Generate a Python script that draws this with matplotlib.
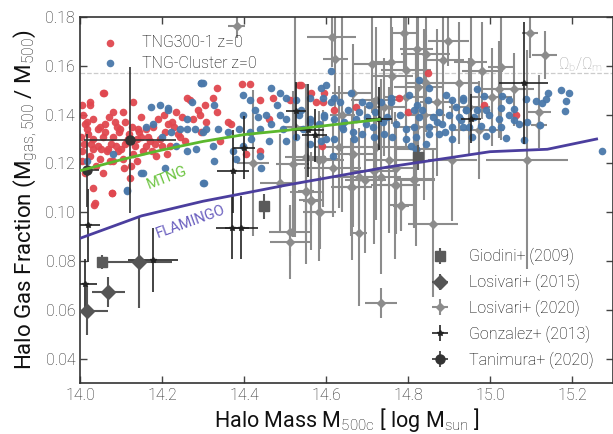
import numpy as np
import matplotlib
matplotlib.use("Agg")
from matplotlib import pyplot as plt

plt.rcParams['font.family'] = ['Roboto', 'DejaVu Sans']
plt.rcParams['font.weight'] = 'light'
plt.rcParams['mathtext.fontset'] = 'custom'
plt.rcParams['mathtext.rm'] = 'Roboto:light'
plt.rcParams['mathtext.it'] = 'Roboto:light'

# TNG300-1 z=0 halos
tng300_x = [14.004, 14.024, 14.058, 14.032, 14.060, 14.085, 14.110, 14.130, 14.105, 14.081,
            14.016, 14.061, 14.032, 14.057, 14.081, 14.004, 14.032, 14.065, 14.093, 14.110,
            14.134, 14.142, 14.150, 14.162, 14.178, 14.207, 14.004, 14.024, 14.049, 14.081,
            14.105, 14.130, 14.154, 14.122, 14.032, 14.077, 14.034, 14.057, 14.012, 14.268,
            14.288, 14.292, 14.414, 14.324, 14.304, 14.333, 14.369, 14.361, 14.308, 14.438,
            14.539, 14.564, 14.576, 14.511, 14.462, 14.438, 14.405, 14.341, 14.296, 14.596,
            14.592, 14.620, 14.673, 14.779, 14.799, 14.848, 14.590, 14.985, 15.064, 14.395,
            14.333, 14.056, 14.024, 14.260, 14.535, 14.470, 14.037, 14.077, 14.010, 14.045,
            14.070, 14.095, 14.120, 14.140, 14.170, 14.190, 14.215, 14.235, 14.250, 14.020,
            14.040, 14.068, 14.090, 14.115, 14.160, 14.185, 14.205, 14.225, 14.245, 14.275,
            14.012, 14.050, 14.075, 14.100, 14.125, 14.145, 14.175, 14.200, 14.230, 14.255,
            14.008, 14.028, 14.044, 14.088, 14.098, 14.118, 14.138, 14.165, 14.195, 14.220,
            14.002, 14.018, 14.052, 14.072, 14.108, 14.128, 14.148, 14.182, 14.212, 14.240]
tng300_y = [0.144, 0.145, 0.149, 0.138, 0.136, 0.137, 0.137, 0.145, 0.141, 0.141,
            0.134, 0.133, 0.130, 0.131, 0.131, 0.125, 0.126, 0.125, 0.125, 0.128,
            0.127, 0.134, 0.131, 0.134, 0.135, 0.133, 0.121, 0.123, 0.122, 0.121,
            0.122, 0.124, 0.125, 0.114, 0.110, 0.108, 0.103, 0.116, 0.116, 0.146,
            0.142, 0.140, 0.1525, 0.147, 0.144, 0.141, 0.136, 0.137, 0.137, 0.146,
            0.152, 0.149, 0.145, 0.146, 0.138, 0.125, 0.124, 0.129, 0.133, 0.149,
            0.145, 0.142, 0.143, 0.147, 0.141, 0.157, 0.127, 0.1439, 0.1398, 0.1525,
            0.151, 0.149, 0.144, 0.1467, 0.152, 0.147, 0.1036, 0.1078, 0.128, 0.127,
            0.139, 0.133, 0.132, 0.130, 0.129, 0.138, 0.136, 0.141, 0.139, 0.132,
            0.119, 0.126, 0.135, 0.129, 0.127, 0.123, 0.140, 0.137, 0.131, 0.138,
            0.136, 0.135, 0.128, 0.126, 0.119, 0.133, 0.125, 0.127, 0.135, 0.129,
            0.140, 0.128, 0.134, 0.127, 0.134, 0.130, 0.121, 0.131, 0.130, 0.127,
            0.131, 0.137, 0.126, 0.121, 0.118, 0.135, 0.139, 0.128, 0.124, 0.132]

# TNG-Cluster z=0 halos
tngc_x = [14.174, 14.195, 14.215, 14.162, 14.178, 14.199, 14.223, 14.243, 14.260, 14.280,
          14.300, 14.260, 14.272, 14.296, 14.235, 14.284, 14.260, 14.150, 14.207, 14.114,
          14.081, 14.016, 14.300, 14.328, 14.397, 14.414, 14.466, 14.487, 14.503, 14.527,
          14.560, 14.592, 14.600, 14.397, 14.426, 14.434, 14.454, 14.487, 14.503, 14.535,
          14.560, 14.584, 14.596, 14.308, 14.337, 14.361, 14.389, 14.414, 14.438, 14.466,
          14.495, 14.527, 14.418, 14.462, 14.503, 14.560, 14.588, 14.324, 14.373, 14.397,
          14.438, 14.381, 14.328, 14.442, 14.302, 14.612, 14.588, 14.612, 14.633, 14.653,
          14.661, 14.689, 14.706, 14.734, 14.758, 14.758, 14.803, 14.827, 14.852, 14.823,
          14.815, 14.835, 14.827, 14.860, 14.876, 14.892, 14.908, 14.933, 14.916, 14.941,
          14.924, 14.900, 14.884, 14.908, 14.933, 14.876, 14.908, 14.596, 14.620, 14.645,
          14.673, 14.698, 14.714, 14.641, 14.665, 14.689, 14.718, 14.742, 14.762, 14.795,
          14.815, 14.852, 14.795, 14.819, 14.852, 14.600, 14.620, 14.669, 14.807, 14.616,
          14.819, 14.844, 14.969, 14.985, 15.030, 15.046, 15.026, 15.058, 15.087, 15.111,
          15.127, 15.137, 15.142, 15.174, 15.192, 15.186, 15.184, 14.933, 14.941, 14.969,
          14.998, 15.022, 15.046, 15.058, 15.070, 15.091, 15.122, 14.929, 14.977, 15.026,
          14.990, 15.040, 15.083, 14.949, 15.273, 14.296, 14.215, 14.114, 14.300, 14.154,
          14.680, 14.700, 14.740, 14.770, 14.640, 14.540, 14.560, 14.480, 14.870, 14.960,
          14.990, 15.005, 14.720, 14.750, 14.850, 14.890, 14.545, 14.620, 14.780, 14.955]
tngc_y = [0.143, 0.144, 0.142, 0.135, 0.136, 0.131, 0.133, 0.134, 0.134, 0.134,
          0.133, 0.138, 0.145, 0.153, 0.127, 0.126, 0.125, 0.116, 0.118, 0.109,
          0.124, 0.121, 0.153, 0.144, 0.148, 0.146, 0.151, 0.149, 0.147, 0.146,
          0.147, 0.147, 0.152, 0.140, 0.142, 0.139, 0.140, 0.140, 0.138, 0.140,
          0.138, 0.136, 0.140, 0.134, 0.134, 0.133, 0.134, 0.133, 0.134, 0.136,
          0.134, 0.131, 0.130, 0.129, 0.129, 0.128, 0.129, 0.127, 0.125, 0.127,
          0.123, 0.122, 0.121, 0.118, 0.112, 0.158, 0.151, 0.145, 0.145, 0.142,
          0.149, 0.145, 0.144, 0.145, 0.147, 0.145, 0.148, 0.154, 0.151, 0.144,
          0.142, 0.142, 0.139, 0.139, 0.141, 0.148, 0.146, 0.147, 0.143, 0.142,
          0.139, 0.140, 0.136, 0.135, 0.135, 0.132, 0.130, 0.139, 0.138, 0.137,
          0.138, 0.136, 0.135, 0.134, 0.133, 0.132, 0.131, 0.132, 0.131, 0.134,
          0.135, 0.135, 0.130, 0.131, 0.132, 0.130, 0.130, 0.130, 0.127, 0.123,
          0.126, 0.128, 0.1507, 0.1476, 0.1476, 0.146, 0.1429, 0.1425, 0.1462, 0.1455,
          0.1446, 0.1466, 0.1487, 0.150, 0.1487, 0.1457, 0.1416, 0.146, 0.1418, 0.1418,
          0.1398, 0.1384, 0.1398, 0.1377, 0.1363, 0.137, 0.1357, 0.1377, 0.1353, 0.135,
          0.1311, 0.1306, 0.1295, 0.135, 0.1251, 0.153, 0.1426, 0.1086, 0.112, 0.116,
          0.141, 0.139, 0.137, 0.136, 0.135, 0.142, 0.137, 0.144, 0.137, 0.139,
          0.142, 0.134, 0.141, 0.139, 0.146, 0.133, 0.134, 0.147, 0.140, 0.131]

# Lovisari+ (2020)
lov20_x = [14.614, 14.623, 14.790, 14.898, 14.821, 14.843, 14.886, 14.713, 14.758, 14.795,
           14.762, 14.981, 14.953, 15.026, 15.097, 15.133, 15.058, 15.022, 15.004, 14.924,
           14.843, 14.825, 14.795, 14.722, 14.665, 14.742, 15.119, 15.119, 14.973, 14.819,
           14.722, 14.632, 14.584, 14.551, 14.665, 14.754, 14.819, 14.908, 15.090, 14.616,
           14.717, 14.770, 14.815, 14.681, 14.551, 14.563, 14.661, 14.770, 14.585, 14.782,
           14.422, 14.519, 14.489, 14.551, 14.564, 14.584, 14.663, 14.696, 14.734, 14.769,
           14.783, 14.681, 14.511, 14.513, 14.734, 14.815, 14.592, 14.861, 14.382, 14.840,
           14.870, 14.950, 14.525, 14.640]
lov20_y = [0.1717, 0.1628, 0.1733, 0.1701, 0.1667, 0.1650, 0.1623, 0.1606, 0.1617, 0.1583,
           0.1560, 0.1580, 0.1614, 0.1596, 0.1733, 0.1644, 0.1503, 0.1503, 0.1473, 0.1528,
           0.1528, 0.1514, 0.1473, 0.1459, 0.1490, 0.1432, 0.1412, 0.1357, 0.1336, 0.1350,
           0.1268, 0.1268, 0.1213, 0.1227, 0.1240, 0.1213, 0.1260, 0.1213, 0.1216, 0.1180,
           0.1170, 0.1180, 0.1138, 0.1145, 0.1083, 0.1049, 0.1104, 0.1110, 0.1000, 0.1028,
           0.1202, 0.1197, 0.1120, 0.1086, 0.1045, 0.1001, 0.1103, 0.1131, 0.1145, 0.1110,
           0.1025, 0.0915, 0.0919, 0.0878, 0.0628, 0.1134, 0.1220, 0.0953, 0.1763, 0.1400,
           0.1450, 0.1430, 0.1350, 0.1400]
lov20_xerr = [0.06, 0.03, 0.03, 0.05, 0.04, 0.06, 0.05, 0.05, 0.04, 0.06,
              0.05, 0.05, 0.04, 0.03, 0.02, 0.03, 0.05, 0.06, 0.05, 0.05,
              0.05, 0.06, 0.05, 0.06, 0.05, 0.05, 0.03, 0.02, 0.06, 0.05,
              0.08, 0.06, 0.06, 0.05, 0.05, 0.06, 0.05, 0.06, 0.10, 0.07,
              0.05, 0.05, 0.05, 0.06, 0.04, 0.03, 0.05, 0.06, 0.04, 0.03,
              0.04, 0.04, 0.05, 0.02, 0.02, 0.03, 0.04, 0.05, 0.05, 0.04,
              0.02, 0.02, 0.05, 0.05, 0.04, 0.05, 0.04, 0.06, 0.02, 0.05,
              0.04, 0.05, 0.03, 0.03]
lov20_yerr = [0.012, 0.020, 0.015, 0.010, 0.030, 0.020, 0.025, 0.020, 0.020, 0.030,
              0.020, 0.020, 0.020, 0.030, 0.010, 0.010, 0.015, 0.020, 0.020, 0.025,
              0.020, 0.030, 0.020, 0.030, 0.020, 0.020, 0.015, 0.006, 0.020, 0.030,
              0.030, 0.025, 0.020, 0.030, 0.030, 0.030, 0.040, 0.025, 0.045, 0.020,
              0.030, 0.020, 0.020, 0.020, 0.020, 0.010, 0.020, 0.020, 0.015, 0.010,
              0.030, 0.030, 0.020, 0.030, 0.020, 0.020, 0.030, 0.030, 0.040, 0.030,
              0.010, 0.030, 0.010, 0.015, 0.006, 0.020, 0.020, 0.030, 0.005, 0.035,
              0.030, 0.020, 0.045, 0.040]

# Gonzalez+ (2013)
gon_x = [14.020, 14.012, 14.178, 14.373, 14.400, 14.527, 14.556, 14.572, 14.371, 14.393,
         14.730, 14.954, 15.082]
gon_y = [0.0946, 0.0707, 0.0805, 0.1167, 0.1265, 0.1415, 0.1336, 0.1315, 0.0937, 0.0937,
         0.1384, 0.1384, 0.1528]
gon_xerr = [0.03, 0.03, 0.06, 0.04, 0.027, 0.025, 0.04, 0.03, 0.04, 0.04,
            0.032, 0.025, 0.06]
gon_yerr = [0.015, 0.010, 0.013, 0.017, 0.013, 0.012, 0.019, 0.011, 0.013, 0.013,
            0.013, 0.010, 0.025]

# Tanimura+ (2020)
tan_x = [14.016, 14.122]
tan_y = [0.1172, 0.1295]
tan_xerr = [0.03, 0.113]
tan_yerr = [0.015, 0.030]

# Giodini+ (2009)
gio_x = [14.053, 14.450, 14.825]
gio_y = [0.0796, 0.1024, 0.1225]
gio_yerr = [0.003, 0.005, 0.005]

# Lovisari+ (2015)
lov15_x = [14.144, 14.069, 14.018]
lov15_y = [0.0796, 0.0673, 0.0597]
lov15_xerr = [0.08, 0.04, 0.05]
lov15_yerr = [0.019, 0.006, 0.010]

# model curves
mtng_x = [14.0, 14.1, 14.2, 14.3, 14.4, 14.5, 14.6, 14.73]
mtng_y = [0.117, 0.1215, 0.1255, 0.129, 0.1318, 0.1335, 0.1355, 0.138]
flam_x = [14.0, 14.15, 14.3, 14.5, 14.75, 15.0, 15.14, 15.26]
flam_y = [0.0893, 0.0985, 0.1045, 0.111, 0.1185, 0.1248, 0.1258, 0.130]

omega_ratio = 0.157

fig = plt.figure(figsize=(6.13, 4.34), dpi=100)
ax = fig.add_axes([0.1305, 0.1175, 0.8695, 0.8433])

ax.errorbar(lov20_x, lov20_y, xerr=lov20_xerr, yerr=lov20_yerr, fmt='D', ms=4,
            color='#8c8c8c', ecolor='#8c8c8c', elinewidth=1.5, capsize=0, zorder=1,
            label='Losivari+ (2020)')

ax.scatter(tng300_x, tng300_y, s=30, color='#e0474f', alpha=0.95, lw=0, zorder=2,
           label='TNG300-1 z=0')
ax.scatter(tngc_x, tngc_y, s=30, color='#4a78aa', alpha=0.95, lw=0, zorder=2,
           label='TNG-Cluster z=0')

ax.errorbar(gio_x, gio_y, yerr=gio_yerr, fmt='s', ms=7, color='#5a5a5a',
            elinewidth=1.5, capsize=0, zorder=3, label='Giodini+ (2009)')
ax.errorbar(lov15_x, lov15_y, xerr=lov15_xerr, yerr=lov15_yerr, fmt='D', ms=7,
            color='#555555', elinewidth=1.5, capsize=0, zorder=3, label='Losivari+ (2015)')
ax.errorbar(gon_x, gon_y, xerr=gon_xerr, yerr=gon_yerr, fmt='*', ms=4,
            color='#222222', elinewidth=1.2, capsize=0, zorder=3, label='Gonzalez+ (2013)')
ax.errorbar(tan_x, tan_y, xerr=tan_xerr, yerr=tan_yerr, fmt='o', ms=6.5,
            color='#333333', elinewidth=1.2, capsize=0, zorder=3, label='Tanimura+ (2020)')

ax.plot(mtng_x, mtng_y, color='#5cb82e', lw=2, zorder=4)
ax.plot(flam_x, flam_y, color='#4b3e9e', lw=2, zorder=4)
ax.text(14.168, 0.1095, 'MTNG', color='#6cc440', fontsize=10.5, rotation=21,
        fontweight='normal', rotation_mode='anchor', zorder=6)
ax.text(14.19, 0.0895, 'FLAMINGO', color='#6a5fbf', fontsize=10.5, rotation=20,
        fontweight='normal', rotation_mode='anchor', zorder=6)

ax.axhline(omega_ratio, color='#cccccc', ls='--', lw=0.9, zorder=0)
ax.text(15.165, 0.1585, 'Ω$_{\\rm b}$/Ω$_{\\rm m}$', color='#aaaaaa', fontsize=11.5)

ax.set_xlim(14.0, 15.3)
ax.set_ylim(0.03, 0.18)
ax.set_xticks([14.0, 14.2, 14.4, 14.6, 14.8, 15.0, 15.2])
ax.set_yticks([0.04, 0.06, 0.08, 0.10, 0.12, 0.14, 0.16, 0.18])
ax.xaxis.set_major_formatter(matplotlib.ticker.FormatStrFormatter('%.1f'))
ax.yaxis.set_major_formatter(matplotlib.ticker.FormatStrFormatter('%.2f'))
ax.tick_params(direction='in', top=True, right=True, length=5, width=1,
               labelsize=11.5, colors='#444444', labelcolor='#222222')
for sp in ax.spines.values():
    sp.set_color('#333333')
    sp.set_linewidth(1.2)

ax.set_xlabel(r'Halo Mass M$_{\rm 500c}$ [ log M$_{\rm sun}$ ]', fontsize=15.5,
              color='#111111', labelpad=2)
ax.set_ylabel(r'Halo Gas Fraction (M$_{\rm gas,500}$ / M$_{500}$)', fontsize=16,
              color='#111111')

handles, labels = ax.get_legend_handles_labels()
hmap = dict(zip(labels, handles))
leg1 = ax.legend([hmap['TNG300-1 z=0'], hmap['TNG-Cluster z=0']],
                 ['TNG300-1 z=0', 'TNG-Cluster z=0'], loc='upper left',
                 frameon=False, fontsize=11.5, bbox_to_anchor=(0.0, 0.99),
                 handletextpad=1.0, labelspacing=0.35)
ax.add_artist(leg1)
obs = ['Giodini+ (2009)', 'Losivari+ (2015)', 'Losivari+ (2020)', 'Gonzalez+ (2013)',
       'Tanimura+ (2020)']
ax.legend([hmap[k] for k in obs], obs, loc='lower right', frameon=False, fontsize=11.5,
          bbox_to_anchor=(0.99, 0.0), labelspacing=0.55, handletextpad=0.8)

fig.savefig('out.png', dpi=100)
